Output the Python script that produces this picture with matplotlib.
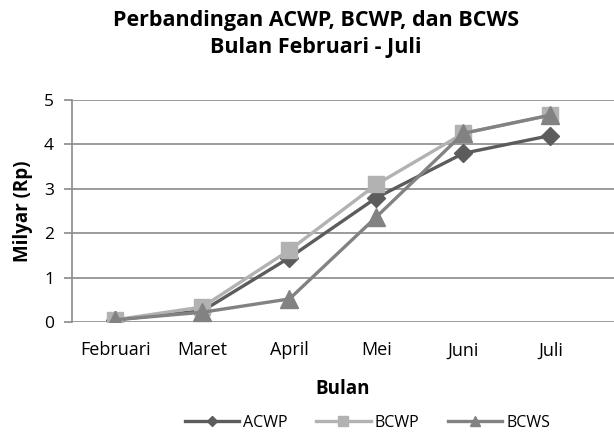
"""Grafik perbandingan ACWP, BCWP dan BCWS, bulan Februari - Juli."""

import matplotlib

matplotlib.use("Agg")
import matplotlib.pyplot as plt

bulan = ["Februari", "Maret", "April", "Mei", "Juni", "Juli"]
acwp = [0.05, 0.25, 1.45, 2.80, 3.80, 4.20]
bcwp = [0.05, 0.34, 1.62, 3.10, 4.25, 4.66]
bcws = [0.05, 0.22, 0.52, 2.37, 4.25, 4.66]

plt.rcParams["font.family"] = ["Open Sans", "DejaVu Sans"]

fig = plt.figure(figsize=(6.14, 4.32), dpi=100)
ax = fig.add_axes([72 / 614, 1 - 322 / 432, 542 / 614, 222 / 432])

x = range(len(bulan))
ax.plot(x, acwp, color="#5c5c5c", lw=2.4, marker="D", ms=9, label="ACWP", zorder=3)
ax.plot(x, bcwp, color="#b2b2b2", lw=2.4, marker="s", ms=12, label="BCWP", zorder=3)
ax.plot(x, bcws, color="#828282", lw=2.4, marker="^", ms=13, label="BCWS", zorder=4)

ax.set_xlim(-0.5, 5.73)
ax.set_ylim(0, 5)
ax.set_yticks(range(6))
ax.set_xticks(list(x))
ax.set_xticklabels(bulan)
ax.grid(axis="y", color="#8a8a8a", lw=1.2)
ax.set_axisbelow(True)
for s in ["top", "right", "bottom"]:
    ax.spines[s].set_visible(False)
ax.spines["left"].set_color("#8a8a8a")
ax.spines["left"].set_linewidth(1.2)
ax.tick_params(axis="y", length=6, color="#8a8a8a", width=1.2, labelsize=12.5, pad=7)
ax.tick_params(axis="x", length=0, labelsize=13, pad=14)

ax.set_ylabel("Milyar (Rp)", fontsize=13.5, fontweight="bold", labelpad=8)
ax.set_xlabel("Bulan", fontsize=13.5, fontweight="bold", labelpad=14)

fig.text(316 / 614, 1 - 34 / 432, "Perbandingan ACWP, BCWP, dan BCWS\nBulan Februari - Juli",
         ha="center", va="center", fontsize=15.5, fontweight="bold", linespacing=1.4)

leg = ax.legend(loc="center", bbox_to_anchor=(0.545, -0.455), ncol=3, frameon=False,
                fontsize=11.5, handlelength=3.4, columnspacing=1.8, handletextpad=0.25,
                markerscale=0.6, borderpad=0.2)

fig.savefig("out.png", dpi=100)
